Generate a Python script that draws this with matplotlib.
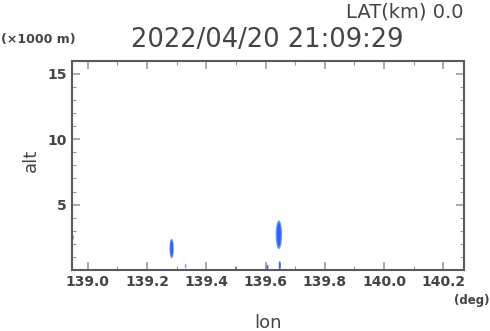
import matplotlib.pyplot as plt
from matplotlib.patches import Ellipse
from matplotlib.ticker import MultipleLocator

# 1.数据：回波块（经度、高度中心、高度范围、经度宽度）
blob_lon = [139.283, 139.645, 139.648, 139.605, 139.50, 139.33, 138.95]
blob_alt = [1.65, 2.7, 0.35, 0.22, 0.15, 0.3, 2.5]
blob_h = [1.5, 2.2, 0.7, 0.35, 0.25, 0.4, 0.35]
blob_w = [0.015, 0.022, 0.008, 0.012, 0.008, 0.006, 0.006]
blob_alpha = [1.0, 1.0, 1.0, 0.9, 0.9, 0.5, 0.7]

xticks = [139.0, 139.2, 139.4, 139.6, 139.8, 140.0, 140.2]
yticks = [5, 10, 15]

title = "2022/04/20 21:09:29"
lat_text = "LAT(km) 0.0"

txt = '#444444'
plt.rcParams['font.family'] = ['DejaVu Sans']

fig = plt.figure(figsize=(4.9, 3.31), dpi=100)
ax = fig.add_axes([0.146, 0.184, 0.801, 0.633])

# 2.画回波块：外层浅蓝，内层深蓝
for x, y, h, w, a in zip(blob_lon, blob_alt, blob_h, blob_w, blob_alpha):
    ax.add_patch(Ellipse((x, y), w, h, color='#7099ff', alpha=a, lw=0))
    ax.add_patch(Ellipse((x, y), w * 0.6, h * 0.85, color='#3060f5', alpha=a, lw=0))

ax.set_xlim(138.945, 140.27)
ax.set_ylim(0, 16)
ax.set_xticks(xticks)
ax.set_yticks(yticks)
ax.xaxis.set_minor_locator(MultipleLocator(0.1))
ax.yaxis.set_minor_locator(MultipleLocator(1))
ax.tick_params(which='both', direction='in', top=True, right=True,
               color='#999999', labelcolor=txt, labelsize=10)
ax.tick_params(which='major', length=6, width=1.2)
ax.tick_params(which='minor', length=3, width=0.8)
for lab in ax.get_xticklabels() + ax.get_yticklabels():
    lab.set_fontweight('bold')
for s in ax.spines.values():
    s.set_color('#5a5a5a')
    s.set_linewidth(1.5)

# 3.文字
fig.text(0.945, 0.965, lat_text, ha='right', va='center', fontsize=14, color=txt)
fig.text(0.546, 0.88, title, ha='center', va='center', fontsize=18.5, color=txt)
fig.text(0.002, 0.88, "(×1000 m)", ha='left', va='center', fontsize=9,
         fontweight='bold', color=txt)
fig.text(0.062, 0.515, "alt", ha='center', va='center', rotation=90,
         fontsize=13, color=txt)
fig.text(0.547, 0.025, "lon", ha='center', va='center', fontsize=13, color=txt)
fig.text(0.999, 0.092, "(deg)", ha='right', va='center', fontsize=8.5,
         fontweight='bold', color=txt)

fig.savefig('out.png', dpi=100)
